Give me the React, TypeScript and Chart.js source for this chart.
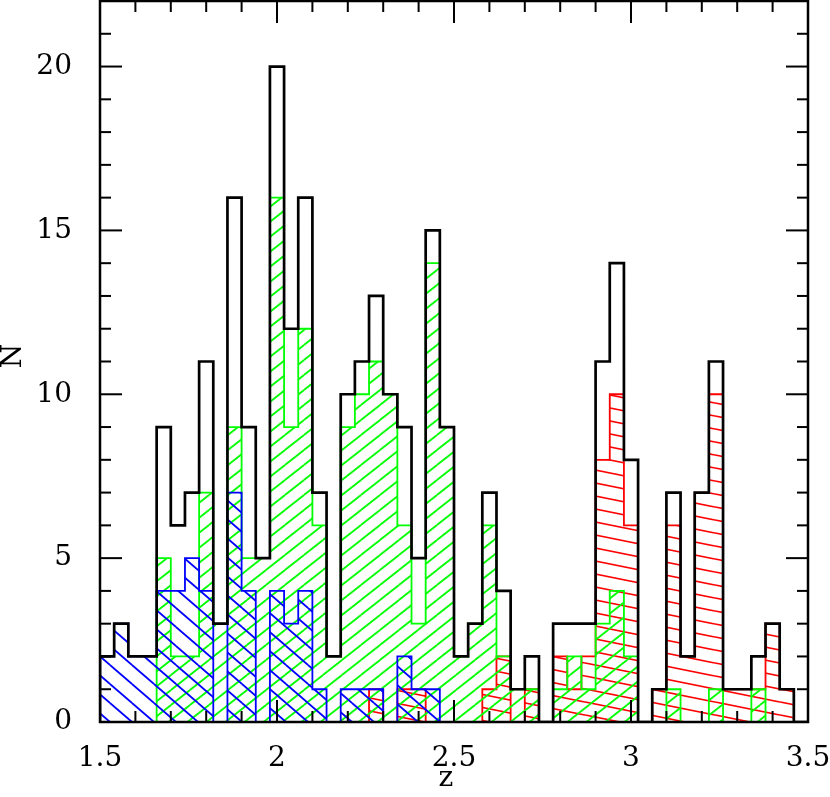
import React, { useEffect, useRef } from 'react';
import { Chart, registerables } from 'chart.js';

Chart.register(...registerables);

// Histogram bins: left edges start at 1.5, width 0.04 (50 bins up to 3.5)
const BIN_START = 1.5;
const BIN_WIDTH = 0.04;

// Total sample (black outline)
const totalCounts = [
  2, 3, 2, 2, 9, 6, 7, 11, 3, 16,
  9, 5, 20, 12, 16, 7, 2, 10, 11, 13,
  10, 9, 5, 15, 9, 2, 3, 7, 4, 1,
  2, 0, 3, 3, 3, 11, 14, 8, 0, 1,
  7, 2, 7, 11, 1, 1, 2, 3, 1, 0,
];

// Green hatched subsample
const greenCounts = [
  0, 0, 0, 0, 5, 2, 2, 7, 3, 9,
  5, 5, 16, 9, 12, 6, 2, 9, 10, 11,
  10, 6, 3, 14, 9, 2, 3, 6, 2, 1,
  1, 0, 1, 2, 1, 3, 4, 2, 0, 0,
  1, 0, 0, 1, 0, 0, 1, 0, 0, 0,
];

// Blue hatched subsample
const blueCounts = [
  2, 3, 2, 2, 4, 4, 5, 4, 0, 7,
  4, 0, 4, 3, 4, 1, 0, 1, 1, 1,
  0, 2, 1, 1, 0, 0, 0, 0, 0, 0,
  0, 0, 0, 0, 0, 0, 0, 0, 0, 0,
  0, 0, 0, 0, 0, 0, 0, 0, 0, 0,
];

// Red hatched subsample
const redCounts = [
  0, 0, 0, 0, 0, 0, 0, 0, 0, 0,
  0, 0, 0, 0, 0, 0, 0, 0, 0, 1,
  0, 1, 1, 0, 0, 0, 0, 1, 2, 0,
  1, 0, 2, 1, 2, 8, 10, 6, 0, 1,
  6, 2, 7, 10, 1, 1, 1, 3, 1, 0,
];

const X_MIN = 1.5;
const X_MAX = 3.5;
const Y_MIN = 0;
const Y_MAX = 22;
const X_TITLE = 'z';
const Y_TITLE = 'N';

const FONT = '"DejaVu Serif", serif';

function stepPoints(counts: number[]) {
  const pts: { x: number; y: number }[] = [{ x: BIN_START, y: 0 }];
  counts.forEach((c, i) => {
    pts.push({ x: +(BIN_START + i * BIN_WIDTH).toFixed(4), y: c });
  });
  pts.push({ x: +(BIN_START + counts.length * BIN_WIDTH).toFixed(4), y: 0 });
  return pts;
}

function makeHatch(
  mainCtx: CanvasRenderingContext2D,
  w: number,
  h: number,
  color: string,
  dir: 'up' | 'down',
  lw: number
) {
  const c = document.createElement('canvas');
  c.width = w;
  c.height = h;
  const g = c.getContext('2d')!;
  g.strokeStyle = color;
  g.lineWidth = lw;
  for (const ox of [-w, 0, w]) {
    for (const oy of [-h, 0, h]) {
      g.beginPath();
      if (dir === 'up') {
        g.moveTo(ox, oy + h);
        g.lineTo(ox + w, oy);
      } else {
        g.moveTo(ox, oy);
        g.lineTo(ox + w, oy + h);
      }
      g.stroke();
    }
  }
  return mainCtx.createPattern(c, 'repeat');
}

const framePlugin = {
  id: 'frameTicks',
  afterDatasetsDraw(chart: any) {
    const { ctx, chartArea: a, scales } = chart;
    const xs = scales.x;
    const ys = scales.y;
    ctx.save();
    ctx.strokeStyle = '#000';
    ctx.lineWidth = 2;
    const seg = (x1: number, y1: number, x2: number, y2: number) => {
      ctx.beginPath();
      ctx.moveTo(x1, y1);
      ctx.lineTo(x2, y2);
      ctx.stroke();
    };
    for (let k = Y_MIN; k <= Y_MAX; k++) {
      const py = ys.getPixelForValue(k);
      const len = k % 5 === 0 ? 22 : 11;
      seg(a.left, py, a.left + len, py);
      seg(a.right, py, a.right - len, py);
    }
    for (let k = Math.round(X_MIN * 10); k <= Math.round(X_MAX * 10); k++) {
      const px = xs.getPixelForValue(k / 10);
      const len = k % 5 === 0 ? 22 : 11;
      seg(px, a.bottom, px, a.bottom - len);
      seg(px, a.top, px, a.top + len);
    }
    ctx.lineWidth = 2.5;
    ctx.strokeRect(a.left, a.top, a.right - a.left, a.bottom - a.top);

    ctx.fillStyle = '#000';
    ctx.font = '28px ' + FONT;
    ctx.textAlign = 'center';
    ctx.textBaseline = 'middle';
    ctx.fillText(X_TITLE, 446, 779);
    ctx.translate(14, 356);
    ctx.rotate(-Math.PI / 2);
    ctx.fillText(Y_TITLE, 0, 0);
    ctx.restore();
  },
};

const zeroPad = (s: any) => {
  s.paddingTop = 0;
  s.paddingBottom = 0;
  s.paddingLeft = 0;
  s.paddingRight = 0;
};

export default function App() {
  const canvasRef = useRef<HTMLCanvasElement | null>(null);

  useEffect(() => {
    const canvas = canvasRef.current!;
    const ctx = canvas.getContext('2d')!;

    const greenHatch = makeHatch(ctx, 19, 15, '#00ff00', 'up', 1.8);
    const blueHatch = makeHatch(ctx, 22, 19, '#0000ff', 'down', 1.8);
    const redHatch = makeHatch(ctx, 65, 13, '#ff0000', 'down', 1.7);

    const common = {
      stepped: 'before' as const,
      pointRadius: 0,
      tension: 0,
      fill: 'origin' as const,
    };

    const chart = new Chart(canvas, {
      type: 'line',
      data: {
        datasets: [
          {
            ...common,
            label: 'all',
            data: stepPoints(totalCounts),
            borderColor: '#000000',
            borderWidth: 2.7,
            fill: false,
            backgroundColor: 'transparent',
          },
          {
            ...common,
            label: 'blue',
            data: stepPoints(blueCounts),
            borderColor: '#0000ff',
            borderWidth: 1.8,
            backgroundColor: blueHatch as any,
          },
          {
            ...common,
            label: 'green',
            data: stepPoints(greenCounts),
            borderColor: '#00ff00',
            borderWidth: 1.8,
            backgroundColor: greenHatch as any,
          },
          {
            ...common,
            label: 'red',
            data: stepPoints(redCounts),
            borderColor: '#ff0000',
            borderWidth: 1.8,
            backgroundColor: redHatch as any,
          },
        ],
      },
      options: {
        responsive: false,
        animation: false,
        devicePixelRatio: 1,
        layout: { padding: { top: 1, right: 22, left: 0, bottom: 0 } },
        plugins: {
          legend: { display: false },
          tooltip: { enabled: false },
        },
        scales: {
          x: {
            type: 'linear',
            min: X_MIN,
            max: X_MAX,
            grid: { display: false },
            border: { display: false },
            ticks: {
              stepSize: 0.5,
              includeBounds: false,
              color: '#000',
              font: { family: FONT, size: 28 },
              padding: 12,
              maxRotation: 0,
              callback: (v: any) => String(Math.round(Number(v) * 10) / 10),
            },
            afterFit: (s: any) => {
              s.height = 75;
              zeroPad(s);
            },
          },
          y: {
            type: 'linear',
            min: Y_MIN,
            max: Y_MAX,
            grid: { display: false },
            border: { display: false },
            ticks: {
              stepSize: 5,
              includeBounds: false,
              color: '#000',
              font: { family: FONT, size: 28 },
              padding: 20,
            },
            afterFit: (s: any) => {
              s.width = 100;
              zeroPad(s);
            },
          },
        },
      },
      plugins: [framePlugin],
    });

    return () => chart.destroy();
  }, []);

  return (
    <div style={{ position: 'absolute', left: 0, top: 0, width: 830, height: 797, background: '#fff' }}>
      <canvas ref={canvasRef} width={830} height={797} style={{ width: 830, height: 797, display: 'block' }} />
    </div>
  );
}
